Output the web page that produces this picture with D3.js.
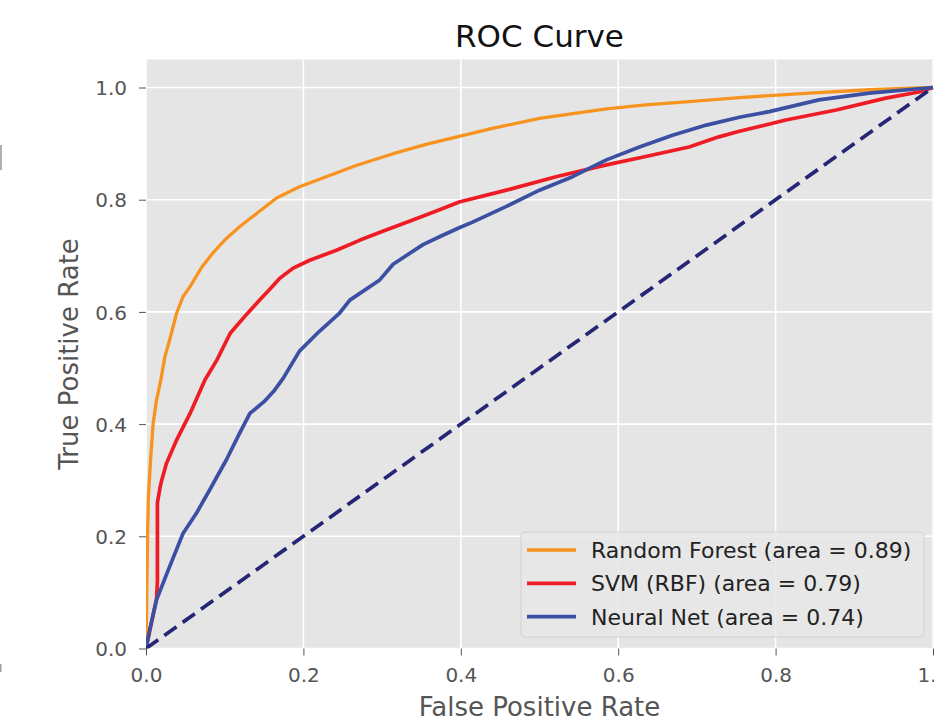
<!DOCTYPE html>
<html>
<head>
<meta charset="utf-8">
<script src="https://cdn.jsdelivr.net/npm/d3@7"></script>
<style>
  body { margin: 0; background: #fff; }
  svg { display: block; font-family: "DejaVu Sans", sans-serif; }
</style>
</head>
<body>
<div id="chart"></div>
<script>
"use strict";

// ROC points as [false positive rate, true positive rate].
let randomForest = [
  [0, 0], [0.001, 0.1], [0.002, 0.2], [0.003, 0.27], [0.006, 0.34], [0.009, 0.40],
  [0.013, 0.44], [0.019, 0.48], [0.024, 0.52], [0.030, 0.55], [0.039, 0.598],
  [0.047, 0.627], [0.056, 0.645], [0.071, 0.68], [0.085, 0.705], [0.100, 0.728],
  [0.120, 0.753], [0.143, 0.778], [0.166, 0.803], [0.195, 0.823], [0.229, 0.841],
  [0.267, 0.861], [0.314, 0.882], [0.357, 0.899], [0.398, 0.913], [0.440, 0.927],
  [0.500, 0.945], [0.585, 0.962], [0.635, 0.969], [0.690, 0.975], [0.754, 0.982],
  [0.843, 0.99], [0.919, 0.996], [1, 1]
];

let svmRbf = [
  [0, 0], [0.006, 0.04], [0.0135, 0.09], [0.0145, 0.12], [0.0145, 0.26], [0.018, 0.288],
  [0.020, 0.30], [0.026, 0.33], [0.039, 0.372], [0.056, 0.419], [0.075, 0.479],
  [0.090, 0.514], [0.107, 0.562], [0.128, 0.596], [0.145, 0.622], [0.157, 0.640],
  [0.170, 0.660], [0.187, 0.678], [0.208, 0.692], [0.242, 0.710], [0.272, 0.728],
  [0.305, 0.746], [0.339, 0.764], [0.373, 0.782], [0.398, 0.796], [0.458, 0.817],
  [0.521, 0.841], [0.585, 0.862], [0.635, 0.877], [0.690, 0.894], [0.728, 0.912],
  [0.754, 0.922], [0.813, 0.942], [0.877, 0.960], [0.940, 0.981], [0.982, 0.992], [1, 1]
];

let neuralNet = [
  [0, 0], [0.005, 0.035], [0.0135, 0.087], [0.030, 0.146], [0.047, 0.205], [0.064, 0.241],
  [0.081, 0.283], [0.102, 0.336], [0.119, 0.384], [0.132, 0.419], [0.150, 0.44],
  [0.162, 0.458], [0.174, 0.481], [0.195, 0.530], [0.220, 0.565], [0.246, 0.598],
  [0.259, 0.621], [0.297, 0.657], [0.314, 0.685], [0.352, 0.720], [0.373, 0.734],
  [0.398, 0.750], [0.415, 0.760], [0.458, 0.788], [0.500, 0.817], [0.542, 0.841],
  [0.585, 0.871], [0.627, 0.894], [0.669, 0.915], [0.712, 0.933], [0.754, 0.947],
  [0.792, 0.957], [0.855, 0.978], [0.919, 0.990], [1, 1]
];

let chanceLine = [[0, 0], [1, 1]];

let seriesNames = [
  "Random Forest (area = 0.89)",
  "SVM (RBF) (area = 0.79)",
  "Neural Net (area = 0.74)"
];
let seriesColours = ["#f7931e", "#ee1d25", "#3b4fa3"];

let xTicks = [0, 0.2, 0.4, 0.6, 0.8, 1.0];
let yTicks = [0, 0.2, 0.4, 0.6, 0.8, 1.0];

let width = 934;
let height = 724;

// Plot panel in page pixels.
let panelLeft = 146;
let panelRight = 933;
let panelBottom = 648.5;
let yTopValue = 1.05;

let x = d3.scaleLinear().domain([0, 1]).range([panelLeft, panelRight]);
let y = d3.scaleLinear().domain([0, 1]).range([panelBottom, 87.5]);
let panelTop = y(yTopValue);

let svg = d3.select("#chart")
  .append("svg")
  .attr("width", width)
  .attr("height", height);

svg.append("rect")
  .attr("width", width)
  .attr("height", height)
  .attr("fill", "#fff");

// Bits of a neighbouring figure left over at the left edge.
svg.append("rect").attr("x", 0).attr("y", 145).attr("width", 2).attr("height", 25).attr("fill", "#b0b0b0");
svg.append("rect").attr("x", 0).attr("y", 664).attr("width", 1.5).attr("height", 8).attr("fill", "#a0a0a0");

// Grey panel with white grid, ggplot style.
svg.append("rect")
  .attr("x", panelLeft)
  .attr("y", panelTop)
  .attr("width", width - panelLeft)
  .attr("height", panelBottom - panelTop)
  .attr("fill", "#e5e5e5");

svg.append("g")
  .selectAll("line")
  .data(xTicks)
  .enter()
  .append("line")
  .attr("x1", d => x(d))
  .attr("x2", d => x(d))
  .attr("y1", panelTop)
  .attr("y2", panelBottom)
  .attr("stroke", "#fff")
  .attr("stroke-width", 1.6);

svg.append("g")
  .selectAll("line")
  .data(yTicks)
  .enter()
  .append("line")
  .attr("x1", panelLeft)
  .attr("x2", width)
  .attr("y1", d => y(d))
  .attr("y2", d => y(d))
  .attr("stroke", "#fff")
  .attr("stroke-width", 1.6);

// Axes: ticks only, no spines.
let xAxis = svg.append("g")
  .attr("transform", `translate(0,${panelBottom})`)
  .call(d3.axisBottom(x).tickValues(xTicks).tickFormat(d3.format(".1f")).tickSize(7).tickPadding(12));

let yAxis = svg.append("g")
  .attr("transform", `translate(${panelLeft},0)`)
  .call(d3.axisLeft(y).tickValues(yTicks).tickFormat(d3.format(".1f")).tickSize(7).tickPadding(12));

[xAxis, yAxis].forEach(axis => {
  axis.select(".domain").remove();
  axis.selectAll(".tick line").attr("stroke", "#555").attr("stroke-width", 1);
  axis.selectAll(".tick text")
    .attr("fill", "#555")
    .style("font-family", "DejaVu Sans")
    .style("font-size", "20px");
});
yAxis.selectAll(".tick text").attr("dy", "0.36em");

// Curves, clipped to the panel.
svg.append("clipPath")
  .attr("id", "panelClip")
  .append("rect")
  .attr("x", panelLeft)
  .attr("y", panelTop)
  .attr("width", width - panelLeft)
  .attr("height", panelBottom - panelTop);

let line = d3.line()
  .x(d => x(d[0]))
  .y(d => y(d[1]));

let curves = svg.append("g").attr("clip-path", "url(#panelClip)");

[randomForest, svmRbf, neuralNet].forEach((series, i) => {
  curves.append("path")
    .datum(series)
    .attr("d", line)
    .attr("fill", "none")
    .attr("stroke", seriesColours[i])
    .attr("stroke-width", i == 0 ? 3.3 : 3.7)
    .attr("stroke-linejoin", "round");
});

curves.append("path")
  .datum(chanceLine)
  .attr("d", line)
  .attr("fill", "none")
  .attr("stroke", "#262676")
  .attr("stroke-width", 3.7)
  .attr("stroke-dasharray", "15 7.5");

// Legend in the lower right.
let legend = svg.append("g");

legend.append("rect")
  .attr("x", 521)
  .attr("y", 532)
  .attr("width", 403)
  .attr("height", 105)
  .attr("rx", 4)
  .attr("fill", "#e7e7e7")
  .attr("fill-opacity", 0.85)
  .attr("stroke", "#d2d2d2")
  .attr("stroke-width", 1);

let legendRows = legend.selectAll("g.row")
  .data(seriesNames)
  .enter()
  .append("g")
  .attr("class", "row")
  .attr("transform", (d, i) => `translate(0,${550 + i * 33.3})`);

legendRows.append("line")
  .attr("x1", 527)
  .attr("x2", 576)
  .attr("stroke", (d, i) => seriesColours[i])
  .attr("stroke-width", 3.7);

legendRows.append("text")
  .attr("x", 591)
  .attr("dy", "0.36em")
  .attr("fill", "#222")
  .style("font-size", "22px")
  .text(d => d);

// Titles.
svg.append("text")
  .attr("x", (panelLeft + panelRight) / 2)
  .attr("y", 47)
  .attr("text-anchor", "middle")
  .attr("fill", "#111")
  .style("font-size", "31px")
  .text("ROC Curve");

svg.append("text")
  .attr("x", (panelLeft + panelRight) / 2)
  .attr("y", 716)
  .attr("text-anchor", "middle")
  .attr("fill", "#555")
  .style("font-size", "26px")
  .text("False Positive Rate");

svg.append("text")
  .attr("transform", `translate(78,${(panelTop + panelBottom) / 2}) rotate(-90)`)
  .attr("text-anchor", "middle")
  .attr("fill", "#555")
  .style("font-size", "26px")
  .text("True Positive Rate");
</script>
</body>
</html>
